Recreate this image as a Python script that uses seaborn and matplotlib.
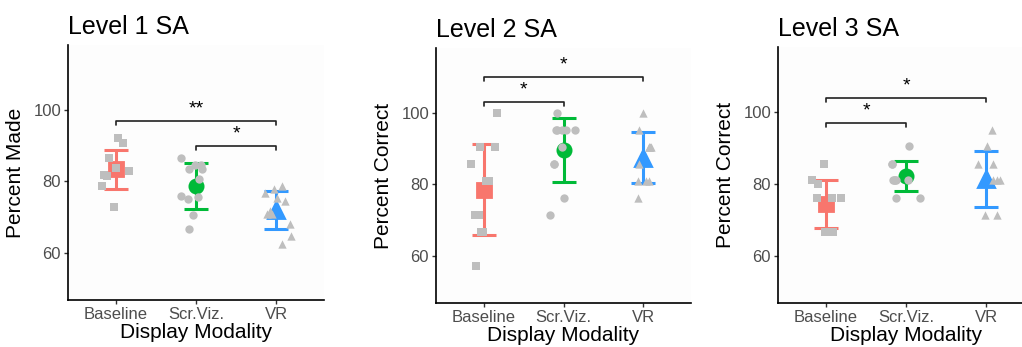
import numpy as np
import pandas as pd
import seaborn as sns
import matplotlib.pyplot as plt

conditions = ['Baseline', 'Scr.Viz.', 'VR']
cond_colors = ['#F8766D', '#00BA38', '#3399FF']
cond_markers = ['s', 'o', '^']

titles = ['Level 1 SA', 'Level 2 SA', 'Level 3 SA']
ylabels = ['Percent Made', 'Percent Correct', 'Percent Correct']

# individual scores
l1_baseline = [92.3, 90.9, 86.7, 83.9, 82.9, 82.9, 81.8, 81.5, 78.6, 72.7]
l1_scrviz = [86.7, 84.6, 84.6, 83.4, 83.4, 80.7, 75.9, 75.5, 75.0, 70.5, 66.7]
l1_vr = [78.8, 77.9, 76.7, 75.3, 74.4, 71.7, 70.8, 70.8, 68.0, 64.8, 62.4]

l2_baseline = [100.0, 90.5, 90.5, 85.7, 81.0, 81.0, 71.4, 71.4, 66.7, 66.7, 57.1]
l2_scrviz = [100.0, 95.2, 95.2, 95.2, 95.2, 95.2, 90.5, 85.7, 85.7, 76.2, 71.4]
l2_vr = [100.0, 95.2, 90.5, 90.5, 90.5, 90.5, 85.7, 81.0, 81.0, 81.0, 76.2]

l3_baseline = [85.7, 81.0, 80.0, 76.2, 76.2, 76.2, 66.7, 66.7, 66.7]
l3_scrviz = [90.5, 85.7, 85.7, 81.0, 81.0, 81.0, 81.0, 81.0, 76.2, 76.2]
l3_vr = [95.2, 90.5, 85.7, 85.7, 81.0, 81.0, 81.0, 71.4, 71.4]

# group means and standard deviations
l1_mean = [83.4, 78.8, 71.9]
l1_sd = [5.4, 6.5, 5.3]
l2_mean = [78.5, 89.6, 87.5]
l2_sd = [12.8, 9.0, 7.1]
l3_mean = [74.3, 82.2, 81.4]
l3_sd = [6.7, 4.3, 7.9]

# significance brackets: (from, to, height, label)
l1_sig = [('Baseline', 'VR', 97.0, '**'), ('Scr.Viz.', 'VR', 90.0, '*')]
l2_sig = [('Baseline', 'VR', 110.0, '*'), ('Baseline', 'Scr.Viz.', 103.0, '*')]
l3_sig = [('Baseline', 'VR', 104.0, '*'), ('Baseline', 'Scr.Viz.', 97.0, '*')]

panels = [
    ([l1_baseline, l1_scrviz, l1_vr], l1_mean, l1_sd, l1_sig),
    ([l2_baseline, l2_scrviz, l2_vr], l2_mean, l2_sd, l2_sig),
    ([l3_baseline, l3_scrviz, l3_vr], l3_mean, l3_sd, l3_sig),
]

sns.set_style('white')
plt.rcParams['font.family'] = ['Liberation Sans', 'DejaVu Sans']
plt.rcParams['text.color'] = 'black'
plt.rcParams['axes.labelcolor'] = 'black'

fig = plt.figure(figsize=(10.22, 3.47), dpi=100)
W, H = 1022, 347
boxes = [(68, 324, 45, 300), (436, 691, 48, 303), (778, 1034, 47, 303)]

np.random.seed(3)
for k, (scores, means, sds, sigs) in enumerate(panels):
    l, r, t, b = boxes[k]
    ax = fig.add_axes([l / W, (H - b) / H, (r - l) / W, (b - t) / H])

    df = pd.DataFrame({
        'cond': np.repeat(conditions, [len(s) for s in scores]),
        'val': np.concatenate(scores),
    })
    summ = pd.DataFrame({'cond': conditions, 'mean': means, 'sd': sds})

    for i, c in enumerate(conditions):
        ax.errorbar(i, means[i], yerr=sds[i], fmt='none', ecolor=cond_colors[i],
                    elinewidth=2.2, capsize=8.5, capthick=2.2, zorder=2)
        sns.pointplot(data=summ[summ.cond == c], x='cond', y='mean', order=conditions,
                      errorbar=None, color=cond_colors[i], marker=cond_markers[i],
                      markersize=11 if cond_markers[i] == '^' else 9.5, linestyle='none',
                      ax=ax, zorder=3)
        sns.stripplot(data=df[df.cond == c], x='cond', y='val', order=conditions,
                      color='#BEBEBE', marker=cond_markers[i], size=6, jitter=0.2,
                      linewidth=0, ax=ax, zorder=4)

    for a, bb, h, lab in sigs:
        x1, x2 = conditions.index(a), conditions.index(bb)
        ax.plot([x1, x1, x2, x2], [h - 1.1, h, h, h - 1.1], color='#222222', lw=1.2)
        ax.text((x1 + x2) / 2, h + 1.0, lab, ha='center', va='bottom', fontsize=14,
                color='black')

    ax.set_xlim(-0.6, 2.6)
    ax.set_ylim(46.75, 118.25)
    ax.set_yticks([60, 80, 100])
    ax.set_facecolor('#FDFDFD')
    for s in ['top', 'right']:
        ax.spines[s].set_visible(False)
    for s in ['left', 'bottom']:
        ax.spines[s].set_color('black')
        ax.spines[s].set_linewidth(1.2)
    ax.tick_params(axis='both', which='both', length=3, width=1, color='#333333',
                   labelsize=12, labelcolor='#4D4D4D', pad=2, bottom=True, left=True)
    ax.set_xlabel('Display Modality', fontsize=15, labelpad=1, color='black')
    ax.set_ylabel(ylabels[k], fontsize=15, labelpad=6, color='black')
    ax.set_title(titles[k], loc='left', fontsize=18, pad=8, color='black')

fig.savefig('out.png', dpi=100)
